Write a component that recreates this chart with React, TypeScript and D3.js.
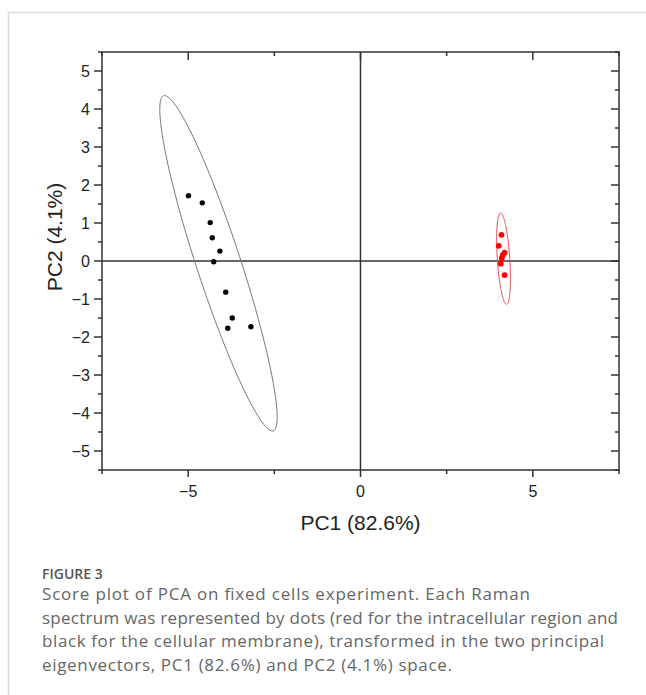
import * as d3 from "d3";
import React from "react";

// PCA scores
const membraneX = [-4.99, -4.59, -4.36, -4.3, -4.08, -4.26, -3.91, -3.72, -3.85, -3.18];
const membraneY = [1.72, 1.53, 1.01, 0.61, 0.26, -0.02, -0.82, -1.5, -1.77, -1.73];
const intraX = [4.09, 4.01, 4.18, 4.13, 4.1, 4.07, 4.18];
const intraY = [0.69, 0.4, 0.22, 0.16, 0.08, -0.07, -0.37];

// confidence ellipses: centre, and two conjugate half-axes (data units)
const membraneEllipse = { cx: -4.12, cy: -0.06, ax: -1.59, ay: 4.41, bx: 0.61, by: 0.18 };
const intraEllipse = { cx: 4.15, cy: 0.06, ax: -0.087, ay: 1.2, bx: 0.18, by: 0.011 };

const xTicksLabelled = [-5, 0, 5];
const yTicksLabelled = [-5, -4, -3, -2, -1, 0, 1, 2, 3, 4, 5];

const caption = [
    "Score plot of PCA on fixed cells experiment. Each Raman",
    "spectrum was represented by dots (red for the intracellular region and",
    "black for the cellular membrane), transformed in the two principal",
    "eigenvectors, PC1 (82.6%) and PC2 (4.1%) space.",
];
const captionWidths = [488, 576, 562, 410];

const W = 646;
const H = 695;
const left = 102,
    right = 619,
    top = 52,
    bottom = 470;

export default function App() {
    const x = d3.scaleLinear().domain([-7.5, 7.5]).range([left, right]);
    const y = d3.scaleLinear().domain([-5.5, 5.5]).range([bottom, top]);

    const ellipsePath = (e: typeof membraneEllipse) => {
        const ts = d3.range(0, 2 * Math.PI + 0.01, Math.PI / 90);
        return d3
            .line<number>()
            .x((t) => x(e.cx + e.ax * Math.cos(t) + e.bx * Math.sin(t)))
            .y((t) => y(e.cy + e.ay * Math.cos(t) + e.by * Math.sin(t)))(ts) as string;
    };

    const fmt = (v: number) => (v < 0 ? "\u2212" + Math.abs(v) : String(v));
    const yMinor = d3.range(-5.5, 5.51, 0.5).filter((v) => !Number.isInteger(v));
    const xMajor = [-5, 0, 5];
    const xMinor = [-7.5, -2.5, 2.5, 7.5];
    const axisColor = "#333";

    return (
        <svg
            width={W}
            height={H}
            style={{ position: "absolute", left: 0, top: 0, background: "#fff" }}
            fontFamily="'Liberation Sans', Arial, sans-serif"
        >
            {/* card border */}
            <rect x={8.5} y={12.5} width={700} height={720} fill="none" stroke="#dcdcdc" strokeWidth={1.5} />

            {/* zero lines */}
            <line x1={x(0)} x2={x(0)} y1={top} y2={bottom} stroke={axisColor} strokeWidth={1.5} />
            <line x1={left} x2={right} y1={y(0)} y2={y(0)} stroke={axisColor} strokeWidth={1.5} />

            {/* left axis outward, right axis inward */}
            {yTicksLabelled.map((v) => (
                <g key={"yl" + v}>
                    <line x1={left - 8} x2={left} y1={y(v)} y2={y(v)} stroke={axisColor} strokeWidth={1.5} />
                    <line x1={right - 8} x2={right} y1={y(v)} y2={y(v)} stroke={axisColor} strokeWidth={1.5} />
                    <text x={left - 12} y={y(v)} dy="0.36em" textAnchor="end" fontSize={16} fill="#222">
                        {fmt(v)}
                    </text>
                </g>
            ))}
            {yMinor.map((v) => (
                <g key={"ym" + v}>
                    <line x1={left - 4} x2={left} y1={y(v)} y2={y(v)} stroke={axisColor} strokeWidth={1.5} />
                    <line x1={right - 4} x2={right} y1={y(v)} y2={y(v)} stroke={axisColor} strokeWidth={1.5} />
                </g>
            ))}

            {/* bottom / top ticks */}
            {xMajor.map((v) => (
                <g key={"xM" + v}>
                    <line x1={x(v)} x2={x(v)} y1={bottom} y2={bottom + 7} stroke={axisColor} strokeWidth={1.5} />
                    <line x1={x(v)} x2={x(v)} y1={top} y2={top + 8} stroke={axisColor} strokeWidth={1.5} />
                </g>
            ))}
            {xMinor.map((v) => (
                <g key={"xm" + v}>
                    <line x1={x(v)} x2={x(v)} y1={bottom} y2={bottom + 4} stroke={axisColor} strokeWidth={1.5} />
                    <line x1={x(v)} x2={x(v)} y1={top} y2={top + 4} stroke={axisColor} strokeWidth={1.5} />
                </g>
            ))}
            {xTicksLabelled.map((v) => (
                <text key={"xt" + v} x={x(v)} y={497} textAnchor="middle" fontSize={16} fill="#222">
                    {fmt(v)}
                </text>
            ))}

            {/* frame */}
            <rect x={left} y={top} width={right - left} height={bottom - top} fill="none" stroke={axisColor} strokeWidth={1.5} />

            {/* ellipses */}
            <path d={ellipsePath(membraneEllipse)} fill="none" stroke="#777" strokeWidth={1} />
            <path d={ellipsePath(intraEllipse)} fill="none" stroke="#e8484f" strokeWidth={1} />

            {/* points */}
            {membraneX.map((v, i) => (
                <circle key={"b" + i} cx={x(v)} cy={y(membraneY[i])} r={2.7} fill="#000" />
            ))}
            {intraX.map((v, i) => (
                <circle key={"r" + i} cx={x(v)} cy={y(intraY[i])} r={2.9} fill="#f00" />
            ))}

            {/* axis titles */}
            <text x={x(0)} y={530} textAnchor="middle" fontSize={21} fill="#222">
                PC1 (82.6%)
            </text>
            <text transform={`translate(62,${237}) rotate(-90)`} textAnchor="middle" fontSize={21} fill="#222">
                PC2 (4.1%)
            </text>

            {/* caption */}
            <text x={42} y={579} fontSize={14} fill="#555" fontFamily="'Open Sans', sans-serif" fontWeight={600}>
                FIGURE 3
            </text>
            {caption.map((line, i) => (
                <text
                    key={"c" + i}
                    x={42}
                    y={600 + i * 23.5}
                    fontSize={17}
                    fill="#666"
                    fontFamily="'Open Sans', sans-serif"
                    textLength={captionWidths[i]}
                    lengthAdjust="spacing"
                >
                    {line}
                </text>
            ))}
        </svg>
    );
}
